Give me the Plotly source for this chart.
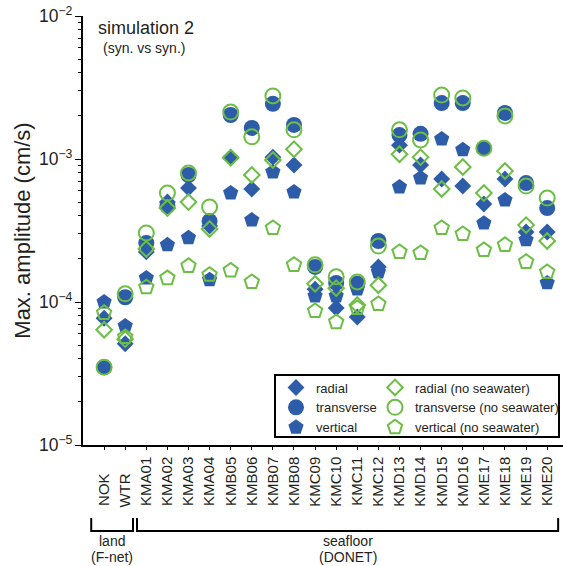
import plotly.graph_objects as go

stations = ["NOK", "WTR", "KMA01", "KMA02", "KMA03", "KMA04", "KMB05", "KMB06",
            "KMB07", "KMB08", "KMC09", "KMC10", "KMC11", "KMC12", "KMD13", "KMD14",
            "KMD15", "KMD16", "KME17", "KME18", "KME19", "KME20"]

radial = [7.7e-5, 5.1e-5, 2.24e-4, 5.0e-4, 6.26e-4, 3.40e-4, 1.03e-3, 6.17e-4,
          1.03e-3, 9.08e-4, 1.23e-4, 9.08e-5, 7.85e-5, 1.76e-4, 1.25e-3, 9.08e-4,
          7.24e-4, 6.47e-4, 4.84e-4, 7.24e-4, 3.09e-4, 3.09e-4]
transverse = [3.5e-5, 1.08e-4, 2.59e-4, 4.69e-4, 7.73e-4, 3.68e-4, 2.03e-3, 1.65e-3,
              2.43e-3, 1.73e-3, 1.76e-4, 1.36e-4, 1.34e-4, 2.67e-4, 1.47e-3, 1.50e-3,
              2.46e-3, 2.46e-3, 1.19e-3, 2.10e-3, 6.79e-4, 4.54e-4]
vertical = [1.0e-4, 6.8e-5, 1.47e-4, 2.51e-4, 2.81e-4, 1.43e-4, 5.78e-4, 3.74e-4,
            8.11e-4, 5.88e-4, 1.10e-4, 1.10e-4, 1.23e-4, 1.62e-4, 6.37e-4, 7.36e-4,
            1.38e-3, 1.16e-3, 3.56e-4, 5.16e-4, 2.72e-4, 1.36e-4]
radial_nsw = [6.4e-5, 5.5e-5, 2.35e-4, 4.54e-4, 5.0e-4, 3.24e-4, 1.02e-3, 7.73e-4,
              9.84e-4, 1.17e-3, 1.34e-4, 1.25e-4, 9.53e-5, 1.31e-4, 1.08e-3, 1.03e-3,
              6.17e-4, 8.79e-4, 5.78e-4, 8.24e-4, 3.45e-4, 2.67e-4]
transverse_nsw = [3.5e-5, 1.14e-4, 3.04e-4, 5.78e-4, 7.98e-4, 4.61e-4, 2.13e-3, 1.43e-3,
                  2.76e-3, 1.60e-3, 1.82e-4, 1.50e-4, 1.38e-4, 2.46e-4, 1.60e-3, 1.36e-3,
                  2.80e-3, 2.67e-3, 1.19e-3, 2.0e-3, 6.47e-4, 5.33e-4]
vertical_nsw = [8.4e-5, 5.7e-5, 1.27e-4, 1.47e-4, 1.79e-4, 1.55e-4, 1.66e-4, 1.38e-4,
                3.29e-4, 1.82e-4, 8.65e-5, 7.24e-5, 9.08e-5, 9.68e-5, 2.24e-4, 2.20e-4,
                3.29e-4, 2.99e-4, 2.31e-4, 2.51e-4, 1.91e-4, 1.62e-4]

# tick labels padded so that they end at the same baseline as the 5-char labels
tick_labels = [s + "\u00a0" * (2 * (5 - len(s))) for s in stations]

BLUE = "#2d5ca9"
GREEN = "#6dbe45"
TXT = "#231f20"
FONT = "Liberation Sans, Arial, sans-serif"

W, H = 563, 566
ML, MR, MT, MB = 83, 0, 16, 121
PW, PH = W - ML - MR, H - MT - MB


def px_x(p):
    return (p - ML) / PW


def px_y(p):
    return (H - MB - p) / PH


fig = go.Figure()

filled = [
    ("radial", radial, "diamond", 13),
    ("transverse", transverse, "circle", 16),
    ("vertical", vertical, "pentagon", 16),
]
opened = [
    ("radial (no seawater)", radial_nsw, "diamond-open", 12),
    ("transverse (no seawater)", transverse_nsw, "circle-open", 15),
    ("vertical (no seawater)", vertical_nsw, "pentagon-open", 15),
]

for name, vals, sym, size in filled:
    fig.add_trace(go.Scatter(
        x=stations, y=vals, mode="markers", name=name, legend="legend",
        marker=dict(symbol=sym, size=size, color=BLUE, line=dict(width=0)),
    ))
for name, vals, sym, size in opened:
    fig.add_trace(go.Scatter(
        x=stations, y=vals, mode="markers", name=name, legend="legend2",
        marker=dict(symbol=sym, size=size, color=GREEN, line=dict(width=2, color=GREEN)),
    ))

legend_common = dict(
    bgcolor="rgba(0,0,0,0)", borderwidth=0, font=dict(family=FONT, size=13, color=TXT),
    orientation="v", yanchor="top", xanchor="left", tracegroupgap=0,
)

shapes = [
    # legend frame
    dict(type="rect", xref="paper", yref="paper", x0=px_x(275), x1=px_x(559),
         y0=px_y(437), y1=px_y(375), line=dict(color="black", width=2),
         fillcolor="white", layer="below"),
]

# brackets under the axis (x in category index units)
by0, by1 = px_y(518), px_y(531)
for xa, xb in [(-0.61, 1.37), (1.56, 21.52)]:
    shapes.append(dict(type="path", xref="x", yref="paper",
                       path=f"M {xa},{by0} L {xa},{by1} L {xb},{by1} L {xb},{by0}",
                       line=dict(color="black", width=2)))

annotations = [
    dict(text="simulation 2", xref="paper", yref="paper", x=px_x(96), y=px_y(28),
         xanchor="left", yanchor="middle", showarrow=False,
         font=dict(family=FONT, size=18, color=TXT)),
    dict(text="(syn. vs syn.)", xref="paper", yref="paper", x=px_x(101), y=px_y(48),
         xanchor="left", yanchor="middle", showarrow=False,
         font=dict(family=FONT, size=14, color=TXT)),
    dict(text="land", xref="x", yref="paper", x=0.38, y=px_y(541),
         xanchor="center", yanchor="middle", showarrow=False,
         font=dict(family=FONT, size=14, color=TXT)),
    dict(text="(F-net)", xref="x", yref="paper", x=0.38, y=px_y(557),
         xanchor="center", yanchor="middle", showarrow=False,
         font=dict(family=FONT, size=14, color=TXT)),
    dict(text="seafloor", xref="x", yref="paper", x=11.54, y=px_y(541),
         xanchor="center", yanchor="middle", showarrow=False,
         font=dict(family=FONT, size=14, color=TXT)),
    dict(text="(DONET)", xref="x", yref="paper", x=11.54, y=px_y(557),
         xanchor="center", yanchor="middle", showarrow=False,
         font=dict(family=FONT, size=14, color=TXT)),
]

fig.update_layout(
    width=W, height=H,
    margin=dict(l=ML, r=MR, t=MT, b=MB, autoexpand=False),
    paper_bgcolor="white", plot_bgcolor="white",
    font=dict(family=FONT, color=TXT),
    showlegend=True,
    legend=dict(x=px_x(276), y=px_y(372.5), **legend_common),
    legend2=dict(x=px_x(375), y=px_y(372.5), **legend_common),
    shapes=shapes,
    annotations=annotations,
    xaxis=dict(
        type="category", range=[-1, 21.75],
        tickmode="array", tickvals=stations, ticktext=tick_labels,
        tickangle=-90, tickfont=dict(family=FONT, size=15, color=TXT),
        ticks="outside", ticklen=3, tickwidth=1.2, tickcolor="black",
        showline=True, linecolor="black", linewidth=1.5,
        showgrid=False, zeroline=False, ticklabelstandoff=1,
    ),
    yaxis=dict(
        type="log", range=[-5, -2], dtick=1, exponentformat="power",
        tickfont=dict(family=FONT, size=14, color=TXT),
        ticks="outside", ticklen=6, tickwidth=1.2, tickcolor="black",
        minor=dict(ticks="outside", ticklen=3, tickwidth=1, tickcolor="black", dtick="D1"),
        showline=True, linecolor="black", linewidth=1.5,
        showgrid=False, zeroline=False,
        title=dict(text="Max. amplitude (cm/s)", font=dict(family=FONT, size=22, color=TXT),
                   standoff=2),
    ),
)

fig.write_html("out.html")
